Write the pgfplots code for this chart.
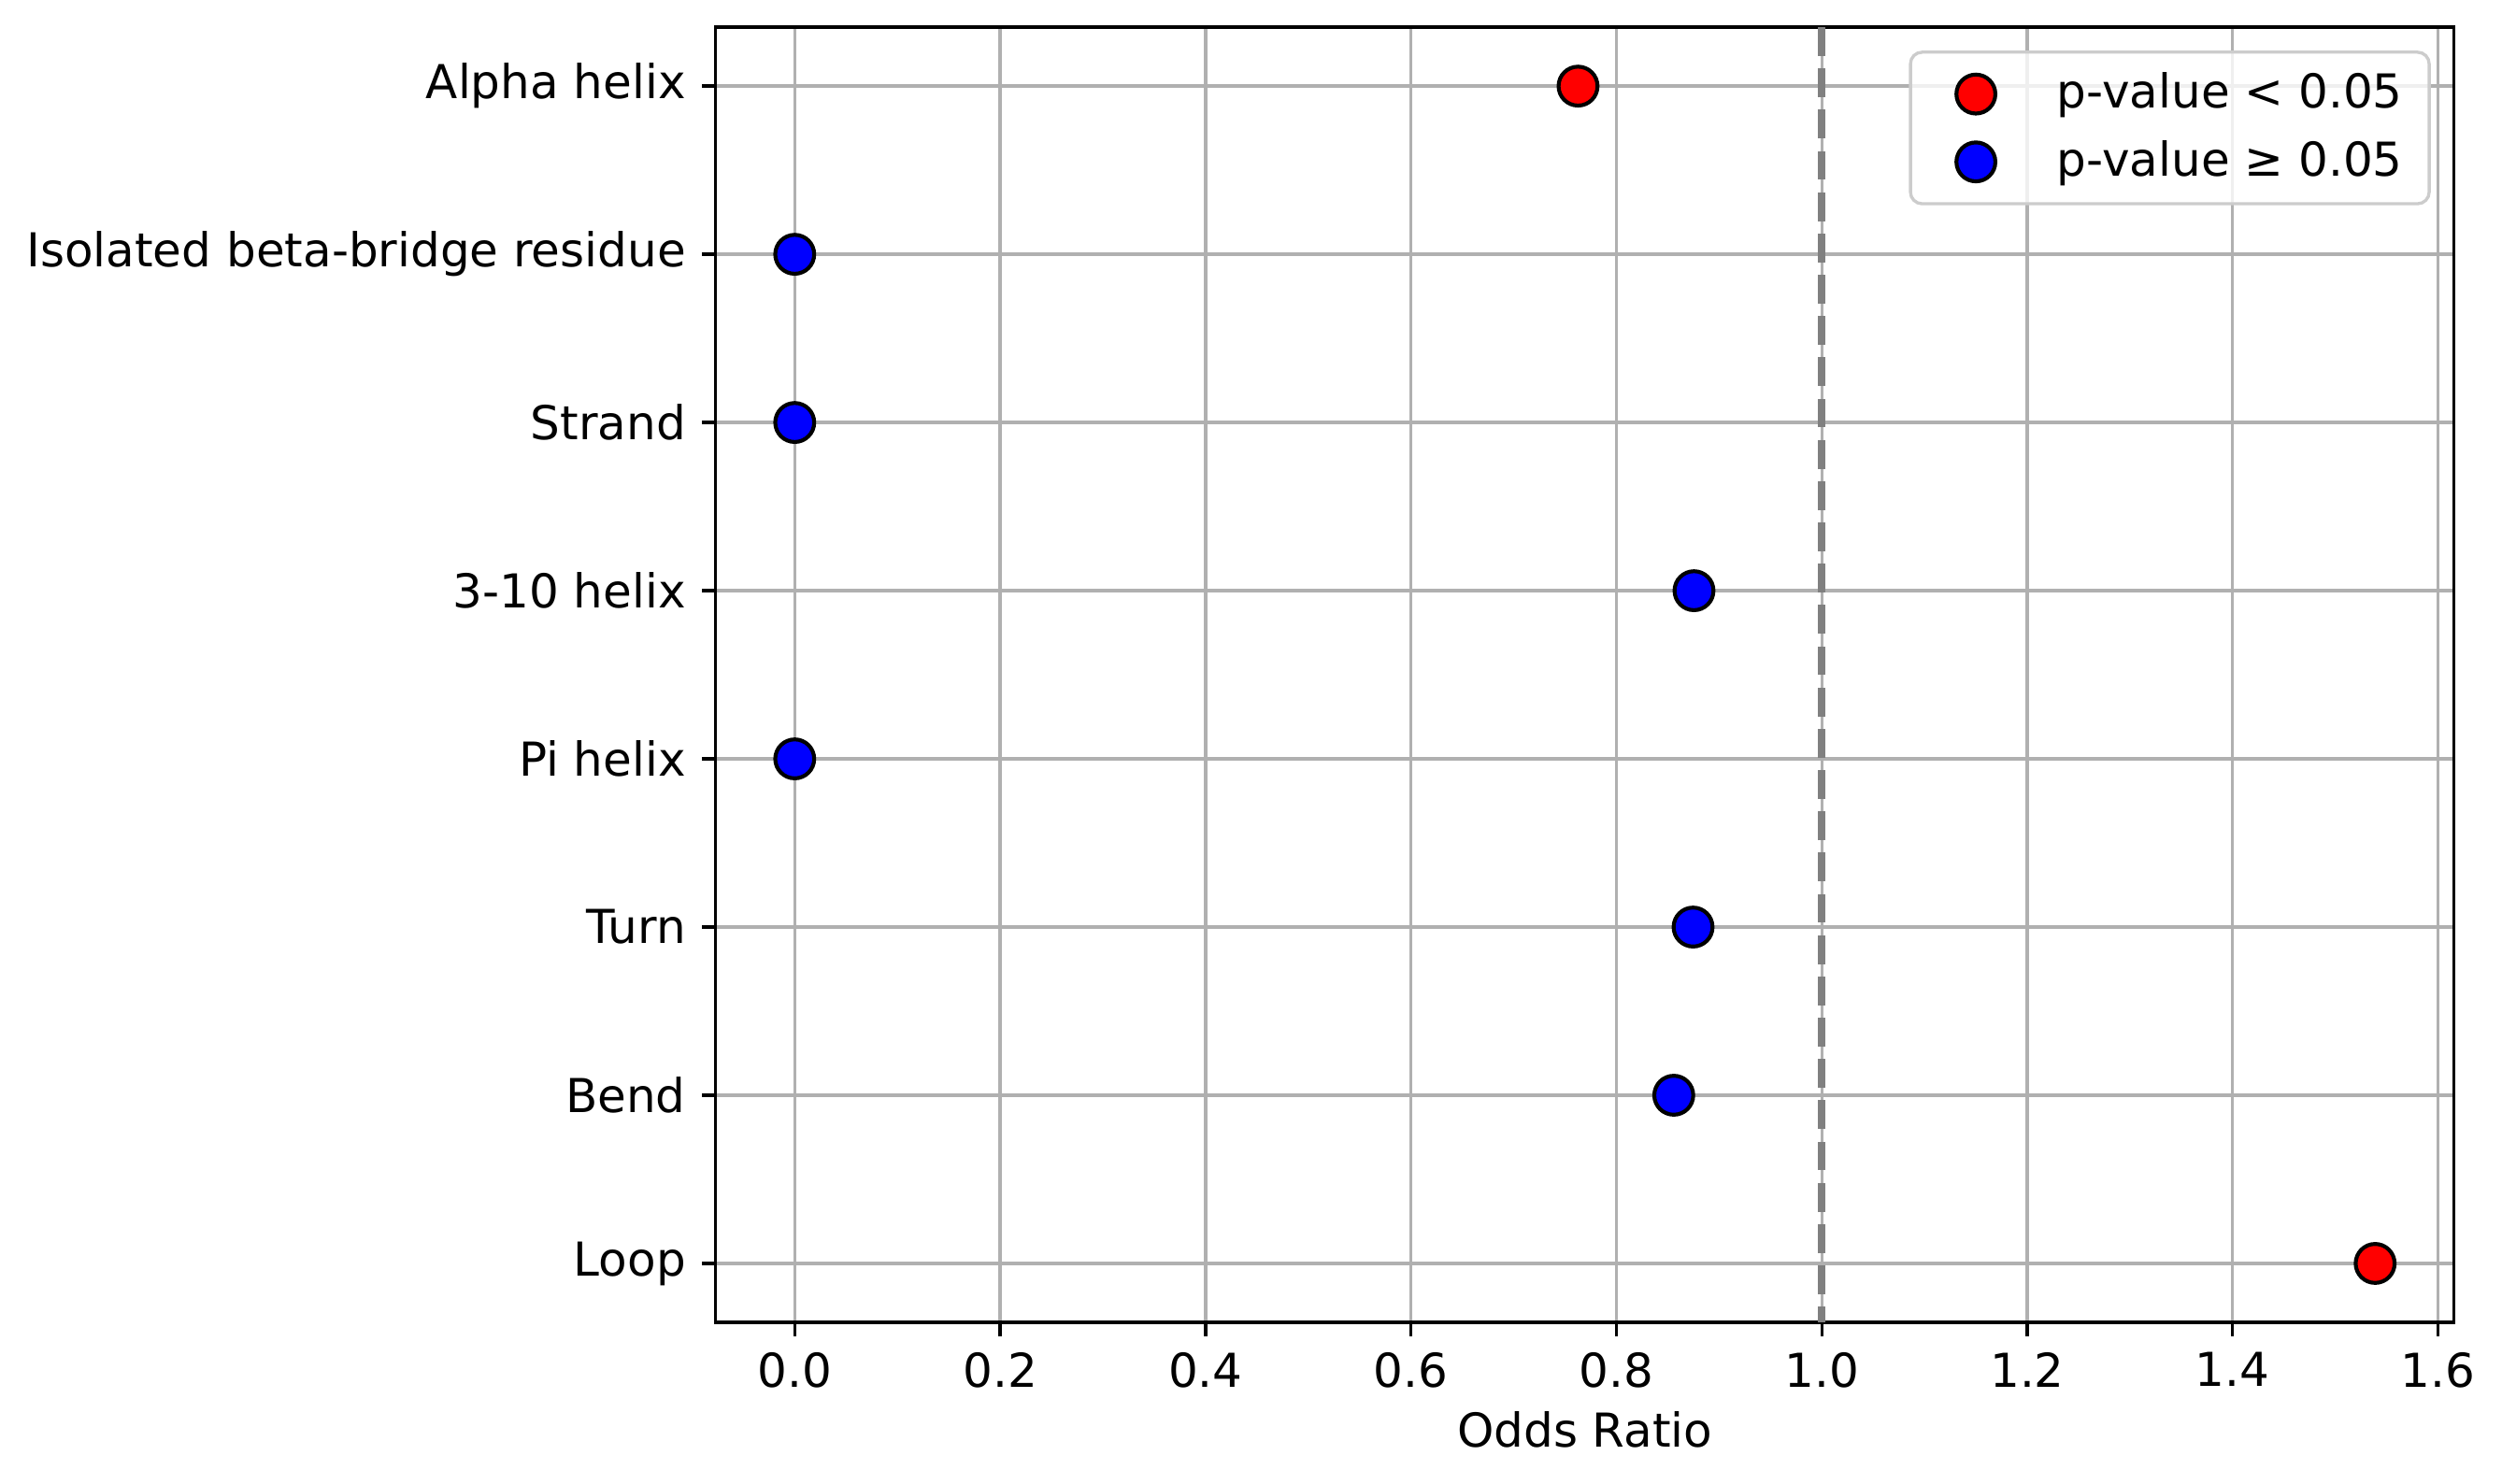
\documentclass[border=0pt]{standalone}
\usepackage{pgfplots}
\pgfplotsset{compat=1.18}
\usepackage{fontspec}
\setmainfont{DejaVu Sans}
\definecolor{gridgray}{HTML}{B0B0B0}
\definecolor{vgray}{HTML}{808080}
\definecolor{legedge}{HTML}{CCCCCC}
\pgfplotsset{layers/mylayers/.define layer set={axis background,markers,axis grid,axis ticks,axis lines,axis tick labels,main,axis descriptions,axis foreground}{}}
\begin{document}
\fontsize{12}{14.4}\selectfont
\begin{tikzpicture}
\begin{axis}[
  at={(0,0)}, anchor=south west,
  scale only axis, width=446.4pt, height=332.6pt,
  xmin=-0.0769, xmax=1.6157,
  ymin=-0.35, ymax=7.35, y dir=reverse,
  xtick={0,0.2,...,1.6},
  xticklabel style={/pgf/number format/fixed,/pgf/number format/fixed zerofill,/pgf/number format/precision=1},
  ytick={0,...,7},
  yticklabels={Alpha helix,Isolated beta-bridge residue,Strand,3-10 helix,Pi helix,Turn,Bend,Loop},
  /pgf/number format/assume math mode=true,
  tick label style={font=\fontsize{12}{14.4}\selectfont},
  label style={font=\fontsize{12}{14.4}\selectfont},
  tick pos=left, tick align=outside,
  major tick length=3.5pt,
  every tick/.style={black, line width=0.8pt},
  axis line style={line width=0.8pt},
  grid=major,
  major grid style={gridgray, line width=0.8pt},
  set layers=mylayers,
  xlabel={Odds Ratio},
  xlabel style={yshift=2pt},
  legend style={at={(1,1)}, anchor=north east, xshift=-6pt, yshift=-6pt,
    draw=legedge, line width=0.8pt, rounded corners=3pt, fill=white, fill opacity=0.8, text opacity=1,
    row sep=2.5pt, inner xsep=4.8pt, inner ysep=3.3pt, font=\fontsize{12}{14.4}\selectfont,
    /tikz/every odd column/.append style={column sep=6.8pt}},
  legend cell align=left,
  legend image code/.code={\path (0pt,0pt) (23.2pt,0pt); \draw[#1, fill opacity=1, draw opacity=1] plot coordinates {(11.6pt,0pt)};},
]
\addplot[only marks, mark=*, mark size=5pt, mark options={fill=red, draw=black, line width=1pt}, on layer=markers]
  coordinates {(0.7627,0) (1.5388,7)};
\addlegendentry{p-value < 0.05}
\addplot[only marks, mark=*, mark size=5pt, mark options={fill=blue, draw=black, line width=1pt}, on layer=markers]
  coordinates {(0,1) (0,2) (0.8756,3) (0,4) (0.8747,5) (0.8559,6)};
\addlegendentry{p-value ≥ 0.05}
\addplot[vgray, line width=2pt, dash pattern=on 7.4pt off 3.2pt, forget plot]
  coordinates {(1,-0.35) (1,7.35)};
\end{axis}
\pgfresetboundingbox
\path[use as bounding box] (-183.8pt,-41.3pt) rectangle (458.7pt,339.6pt);
\end{tikzpicture}
\end{document}
